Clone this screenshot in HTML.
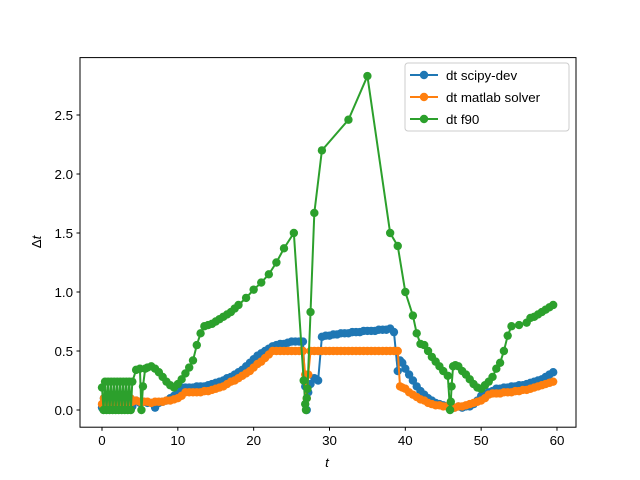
<!DOCTYPE html>
<html><head><meta charset="utf-8"><style>
body{margin:0;background:#fff;}
svg{display:block;font-family:"Liberation Sans","DejaVu Sans",sans-serif;}
</style></head><body>
<svg id="chart" width="640" height="480" viewBox="0 0 640 480">
<rect x="0" y="0" width="640" height="480" fill="#fff"/>
<g id="series"></g>
<rect x="80" y="57.6" width="496" height="369.6" fill="none" stroke="#000" stroke-width="1"/>
<g id="axes" font-size="10pt" fill="#000"></g>
<text x="327" y="467" font-size="10pt" font-style="italic" text-anchor="middle">t</text>
<text transform="translate(41,242) rotate(-90)" font-size="10pt" text-anchor="middle">Δ<tspan font-style="italic">t</tspan></text>
<g>
<rect x="405" y="63" width="164" height="68" rx="3" fill="#fff" fill-opacity="0.8" stroke="#ccc" stroke-width="1"/>
<g><line x1="410" y1="75" x2="438" y2="75" stroke="#1f77b4" stroke-width="2"/><circle cx="424" cy="75" r="4.2" fill="#1f77b4"/><text x="446" y="80" font-size="10pt">dt scipy-dev</text></g>
<g><line x1="410" y1="97" x2="438" y2="97" stroke="#ff7f0e" stroke-width="2"/><circle cx="424" cy="97" r="4.2" fill="#ff7f0e"/><text x="446" y="102" font-size="10pt">dt matlab solver</text></g>
<g><line x1="410" y1="119" x2="438" y2="119" stroke="#2ca02c" stroke-width="2"/><circle cx="424" cy="119" r="4.2" fill="#2ca02c"/><text x="446" y="124" font-size="10pt">dt f90</text></g>
</g>
</svg>
<script>
const xTicks=[0,10,20,30,40,50,60];
const yTicks=[0,0.5,1,1.5,2,2.5];
const yTickLabels=["0.0","0.5","1.0","1.5","2.0","2.5"];
const scipyT=[0,0.25,0.5,0.75,1,1.25,1.5,1.75,2,2.25,2.5,2.75,3,3.25,3.5,3.75,4,4.5,5,5.5,6,6.5,7,7.5,8,8.5,9,9.5,10,10.5,11,11.5,12,12.5,13,13.5,14,14.5,15,15.5,16,16.5,17,17.5,18,18.5,19,19.5,20,20.5,21,21.5,22,22.5,23,23.5,24,24.5,25,25.5,26,26.5,26.8,27,27.2,27.5,28,28.5,29,29.5,30,30.5,31,31.5,32,32.5,33,33.5,34,34.5,35,35.5,36,36.5,37,37.5,38,38.5,39,39.3,39.6,40,40.5,41,41.5,42,42.5,43,43.5,44,44.5,45,45.5,46,46.5,47,47.5,48,48.5,49,49.5,50,50.5,51,51.5,52,52.5,53,53.5,54,54.5,55,55.5,56,56.5,57,57.5,58,58.5,59,59.5];
const scipyV=[0.02,0.1,0.02,0.1,0.02,0.1,0.02,0.1,0.02,0.1,0.02,0.1,0.02,0.1,0.02,0.1,0.03,0.08,0.06,0.07,0.06,0.06,0.02,0.06,0.07,0.08,0.1,0.12,0.14,0.19,0.19,0.19,0.19,0.2,0.2,0.2,0.21,0.22,0.23,0.24,0.25,0.27,0.28,0.3,0.32,0.34,0.37,0.4,0.43,0.46,0.48,0.5,0.52,0.54,0.55,0.56,0.56,0.57,0.58,0.58,0.58,0.58,0.2,0.0,0.15,0.22,0.27,0.25,0.62,0.63,0.63,0.64,0.64,0.65,0.65,0.65,0.66,0.66,0.66,0.67,0.67,0.67,0.67,0.68,0.68,0.68,0.69,0.66,0.33,0.42,0.4,0.35,0.3,0.25,0.2,0.16,0.13,0.1,0.08,0.06,0.05,0.04,0.03,0.02,0.02,0.03,0.02,0.03,0.03,0.05,0.08,0.12,0.14,0.15,0.16,0.18,0.18,0.19,0.19,0.2,0.2,0.21,0.21,0.22,0.23,0.24,0.25,0.26,0.28,0.3,0.32,0.22];
const matlabT=[0,0.25,0.5,0.75,1,1.25,1.5,1.75,2,2.25,2.5,2.75,3,3.25,3.5,3.75,4,4.5,5,5.5,6,6.5,7,7.5,8,8.5,9,9.5,10,10.5,11,11.5,12,12.5,13,13.5,14,14.5,15,15.5,16,16.5,17,17.5,18,18.5,19,19.5,20,20.5,21,21.5,22,22.5,23,23.5,24,24.5,25,25.5,26,26.5,26.8,27,27.2,27.5,28,28.5,29,29.5,30,30.5,31,31.5,32,32.5,33,33.5,34,34.5,35,35.5,36,36.5,37,37.5,38,38.5,39,39.3,39.6,40,40.5,41,41.5,42,42.5,43,43.5,44,44.5,45,45.5,46,46.5,47,47.5,48,48.5,49,49.5,50,50.5,51,51.5,52,52.5,53,53.5,54,54.5,55,55.5,56,56.5,57,57.5,58,58.5,59,59.5];
const matlabV=[0.05,0.1,0.05,0.1,0.05,0.1,0.05,0.1,0.05,0.1,0.05,0.1,0.05,0.1,0.05,0.1,0.07,0.08,0.07,0.07,0.07,0.06,0.07,0.07,0.07,0.08,0.08,0.09,0.1,0.12,0.15,0.15,0.15,0.15,0.15,0.16,0.16,0.17,0.18,0.19,0.2,0.22,0.24,0.25,0.27,0.29,0.31,0.33,0.36,0.39,0.41,0.44,0.47,0.5,0.5,0.5,0.5,0.5,0.5,0.5,0.5,0.5,0.3,0.1,0.3,0.5,0.5,0.5,0.5,0.5,0.5,0.5,0.5,0.5,0.5,0.5,0.5,0.5,0.5,0.5,0.5,0.5,0.5,0.5,0.5,0.5,0.5,0.5,0.5,0.2,0.19,0.18,0.15,0.13,0.11,0.09,0.08,0.06,0.05,0.04,0.04,0.03,0.03,0.02,0.02,0.03,0.03,0.04,0.05,0.06,0.07,0.08,0.1,0.13,0.14,0.14,0.14,0.15,0.15,0.15,0.16,0.16,0.17,0.17,0.18,0.19,0.2,0.21,0.22,0.23,0.24,0.26,0.28];
const f90T=[0,0.2,0.4,0.6,0.8,1,1.2,1.4,1.6,1.8,2,2.2,2.4,2.6,2.8,3,3.2,3.4,3.6,3.8,4,4.5,5,5.2,5.4,5.7,6,6.5,7,7.5,8,8.5,9,9.5,10,10.5,11,11.5,12,12.5,13,13.5,14,14.5,15,15.5,16,16.5,17,17.5,18,19,20,21,22,23,24,25.3,26.6,26.8,26.9,27,27.1,27.5,28,29,32.5,35,38,39,40,41,41.5,42,42.5,43,43.5,44,44.5,45,45.6,45.9,46,46.1,46.3,46.6,47,47.5,48,48.5,49,49.5,50,50.5,51,51.5,52,52.5,53,53.5,54,55,56,56.5,57,57.5,58,58.5,59,59.5];
const f90V=[0.19,0.0,0.24,0.0,0.24,0.0,0.24,0.0,0.24,0.0,0.24,0.0,0.24,0.0,0.24,0.0,0.24,0.0,0.24,0.0,0.24,0.34,0.35,0.0,0.2,0.35,0.36,0.37,0.35,0.32,0.28,0.24,0.21,0.19,0.22,0.26,0.31,0.36,0.42,0.55,0.65,0.71,0.72,0.73,0.75,0.77,0.79,0.81,0.83,0.86,0.89,0.95,1.02,1.08,1.15,1.25,1.37,1.5,0.25,0.05,0.0,0.1,0.18,0.83,1.67,2.2,2.46,2.83,1.5,1.39,1.0,0.8,0.65,0.56,0.55,0.5,0.45,0.41,0.37,0.33,0.29,0.0,0.07,0.2,0.37,0.38,0.37,0.33,0.3,0.26,0.22,0.19,0.18,0.21,0.24,0.28,0.35,0.4,0.5,0.63,0.71,0.72,0.74,0.78,0.79,0.81,0.83,0.85,0.87,0.89];

const NS='http://www.w3.org/2000/svg';
const xScale=t=>102+t*7.583;
const yScale=v=>410-v*118;
const seriesG=document.getElementById('series');
const axesG=document.getElementById('axes');
function drawSeries(ts,vs,color,name){
  const g=document.createElementNS(NS,'g');
  
  
  const pl=document.createElementNS(NS,'polyline');
  pl.setAttribute('points',ts.map((t,i)=>xScale(t)+','+yScale(vs[i])).join(' '));
  pl.setAttribute('fill','none');pl.setAttribute('stroke',color);pl.setAttribute('stroke-width','2');
  
  
  g.appendChild(pl);
  ts.forEach((t,i)=>{
    const c=document.createElementNS(NS,'circle');
    c.setAttribute('cx',xScale(t));c.setAttribute('cy',yScale(vs[i]));c.setAttribute('r',4.2);c.setAttribute('fill',color);
    
    
    g.appendChild(c);
  });
  seriesG.appendChild(g);
}
drawSeries(scipyT,scipyV,'#1f77b4','series-scipy-dev');
drawSeries(matlabT,matlabV,'#ff7f0e','series-matlab-solver');
drawSeries(f90T,f90V,'#2ca02c','series-f90');
xTicks.forEach(t=>{
  const x=xScale(t);
  const l=document.createElementNS(NS,'line');
  l.setAttribute('x1',x);l.setAttribute('x2',x);l.setAttribute('y1',427.2);l.setAttribute('y2',430.7);l.setAttribute('stroke','#000');
  
  
  axesG.appendChild(l);
  const tx=document.createElementNS(NS,'text');
  tx.setAttribute('x',x);tx.setAttribute('y',445);tx.setAttribute('text-anchor','middle');tx.textContent=t;
  
  
  axesG.appendChild(tx);
});
yTicks.forEach((v,i)=>{
  const y=yScale(v);
  const l=document.createElementNS(NS,'line');
  l.setAttribute('x1',76.5);l.setAttribute('x2',80);l.setAttribute('y1',y);l.setAttribute('y2',y);l.setAttribute('stroke','#000');
  
  
  axesG.appendChild(l);
  const tx=document.createElementNS(NS,'text');
  tx.setAttribute('x',73);tx.setAttribute('y',y+5);tx.setAttribute('text-anchor','end');tx.textContent=yTickLabels[i];
  
  
  axesG.appendChild(tx);
});
</script>
</body></html>
